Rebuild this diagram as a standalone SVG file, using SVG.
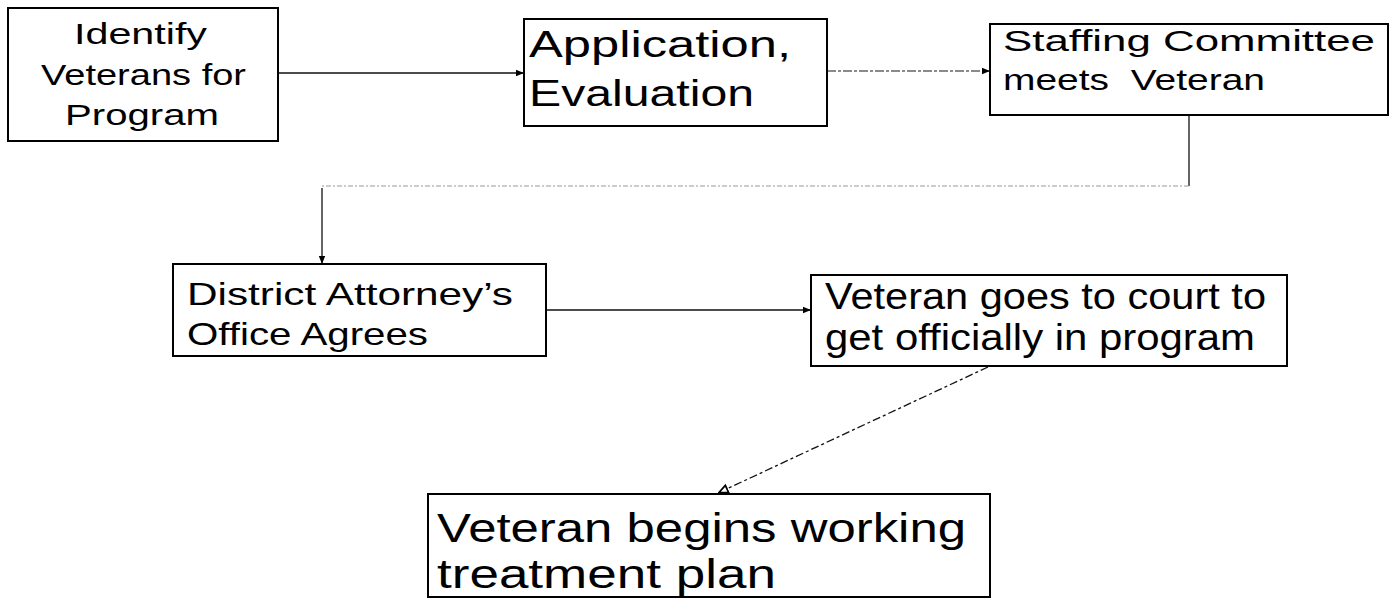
<svg xmlns="http://www.w3.org/2000/svg" width="1392" height="599" viewBox="0 0 1392 599">
<defs>
<style>
.box{fill:#fff;stroke:#000;stroke-width:2}
.t{font-family:"Liberation Sans",Arial,sans-serif;fill:#000;white-space:pre}
.c{fill:none;stroke:#111;stroke-width:1.3}
.gray{stroke:#666;stroke-dasharray:9 2 3 2}
.faint{stroke:#999;stroke-width:1.2;stroke-dasharray:5 2 2 2}
.dash{stroke-dasharray:8 3 3 3}
</style>
<marker id="ah" viewBox="0 0 10 10" refX="10" refY="5" markerWidth="9" markerHeight="8" markerUnits="userSpaceOnUse" orient="auto">
<path d="M0,1 L10,5 L0,9 Z" fill="#000"/>
</marker>
<marker id="ao" viewBox="0 0 10 10" refX="10" refY="5" markerWidth="11" markerHeight="11" markerUnits="userSpaceOnUse" orient="auto">
<path d="M1,1.5 L9,5 L1,8.5 Z" fill="#fff" stroke="#000" stroke-width="1.6"/>
</marker>
</defs>
<rect width="1392" height="599" fill="#fff"/>
<g id="connectors">
<line class="c" x1="278" y1="73" x2="524" y2="73" marker-end="url(#ah)"/>
<line class="c gray" x1="827" y1="71" x2="990" y2="71" marker-end="url(#ah)"/>
<line class="c" x1="1189" y1="115" x2="1189" y2="186"/>
<line class="c faint" x1="1189" y1="186" x2="322" y2="186"/>
<line class="c" x1="322" y1="188" x2="322" y2="264" marker-end="url(#ah)"/>
<line class="c" x1="546" y1="310" x2="811" y2="310" marker-end="url(#ah)"/>
<line class="c dash" x1="988" y1="367" x2="718" y2="493" marker-end="url(#ao)"/>
</g>
<g id="n1">
<rect class="box" x="8" y="8" width="270" height="133"/>
<text class="t" font-size="29"><tspan x="74" y="44" textLength="133" lengthAdjust="spacingAndGlyphs">Identify</tspan><tspan x="41" y="85" textLength="205" lengthAdjust="spacingAndGlyphs">Veterans for</tspan><tspan x="65" y="125" textLength="154" lengthAdjust="spacingAndGlyphs">Program</tspan></text>
</g>
<g id="n2">
<rect class="box" x="524" y="19" width="303" height="107"/>
<text class="t" font-size="37"><tspan x="529" y="57" textLength="262" lengthAdjust="spacingAndGlyphs">Application,</tspan><tspan x="529" y="106" textLength="225" lengthAdjust="spacingAndGlyphs">Evaluation</tspan></text>
</g>
<g id="n3">
<rect class="box" x="990" y="24" width="398" height="91"/>
<text class="t" font-size="29"><tspan x="1003" y="51" textLength="372" lengthAdjust="spacingAndGlyphs">Staffing Committee</tspan><tspan x="1003" y="90" textLength="262" lengthAdjust="spacingAndGlyphs">meets  Veteran</tspan></text>
</g>
<g id="n4">
<rect class="box" x="173" y="264" width="373" height="92"/>
<text class="t" font-size="32"><tspan x="187" y="305" textLength="326" lengthAdjust="spacingAndGlyphs">District Attorney’s</tspan><tspan x="187" y="345" textLength="241" lengthAdjust="spacingAndGlyphs">Office Agrees</tspan></text>
</g>
<g id="n5">
<rect class="box" x="811" y="275" width="476" height="91"/>
<text class="t" font-size="36"><tspan x="825" y="309" textLength="441" lengthAdjust="spacingAndGlyphs">Veteran goes to court to</tspan><tspan x="825" y="350" textLength="430" lengthAdjust="spacingAndGlyphs">get officially in program</tspan></text>
</g>
<g id="n6">
<rect class="box" x="428" y="494" width="562" height="103"/>
<text class="t" font-size="41"><tspan x="437" y="542" textLength="529" lengthAdjust="spacingAndGlyphs">Veteran begins working</tspan><tspan x="437" y="588" textLength="339" lengthAdjust="spacingAndGlyphs">treatment plan</tspan></text>
</g>
</svg>
